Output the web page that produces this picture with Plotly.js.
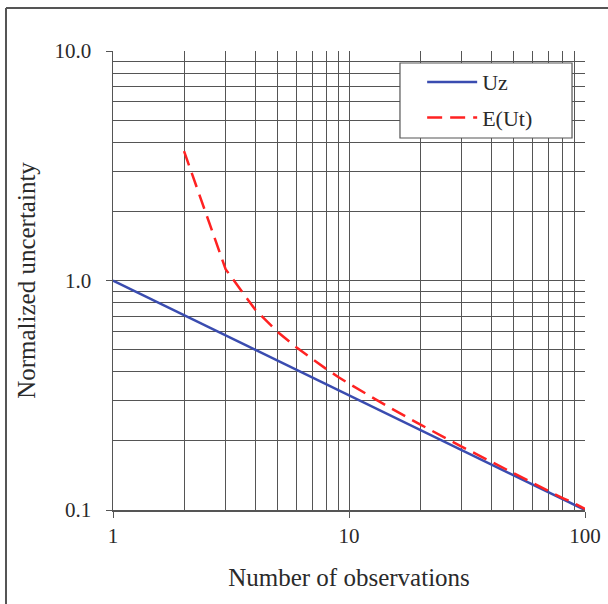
<!DOCTYPE html>
<html>
<head>
<meta charset="utf-8">
<script src="https://cdn.plot.ly/plotly-3.0.1.min.js"></script>
<style>
html,body{margin:0;padding:0;background:#fff;}
#chart{width:608px;height:604px;}
</style>
</head>
<body>
<div id="chart"></div>
<script>
// Data
const nUz = [1, 2, 5, 10, 20, 50, 100];
const uz = [1.0, 0.707, 0.447, 0.316, 0.224, 0.141, 0.1];

const nEUt = [2, 3, 4, 5, 6, 7, 8, 9, 10, 15, 20, 30, 40, 50, 60, 70, 80, 90, 100];
const eut = [3.66, 1.12, 0.748, 0.595, 0.51, 0.453, 0.412, 0.38, 0.355, 0.278, 0.236, 0.189, 0.162, 0.144, 0.131, 0.121, 0.113, 0.107, 0.101];

const xTickVals = [1, 10, 100];
const xTickText = ['1', '10', '100'];
const yTickVals = [0.1, 1, 10];
const yTickText = ['0.1', '1.0', '10.0'];
const xMinor = [2, 3, 4, 5, 6, 7, 8, 9, 20, 30, 40, 50, 60, 70, 80, 90];
const yMinor = [0.2, 0.3, 0.4, 0.5, 0.6, 0.7, 0.8, 0.9, 2, 3, 4, 5, 6, 7, 8, 9];

const gridCol = '#555555';
const font = 'Liberation Serif, Times New Roman, serif';
const txtCol = '#2a2a2a';

const traces = [
  {x: nUz, y: uz, name: 'Uz', mode: 'lines', type: 'scatter',
   line: {color: '#3a4cb0', width: 2.5}, legendgroup: 'a'},
  {x: nEUt, y: eut, name: 'E(Ut)', mode: 'lines', type: 'scatter',
   line: {color: '#ff2222', width: 2.5, dash: '15px,8px'}, legendgroup: 'b'}
];

const layout = {
  width: 608, height: 604,
  margin: {l: 113, r: 23, t: 51, b: 94},
  paper_bgcolor: '#fff', plot_bgcolor: '#fff',
  font: {family: font, color: txtCol, size: 21},
  showlegend: true,
  legend: {x: 0.655, y: 0.978, xanchor: 'left', yanchor: 'top',
    bgcolor: 'rgba(0,0,0,0)', borderwidth: 0, itemwidth: 50,
    font: {family: font, size: 22, color: txtCol},
    traceorder: 'grouped', tracegroupgap: 4},
  xaxis: {type: 'log', range: [0, 2], tickvals: xTickVals, ticktext: xTickText,
    ticks: 'outside', ticklen: 6, tickcolor: gridCol, tickwidth: 1,
    ticklabelstandoff: 0,
    showgrid: true, gridcolor: gridCol, gridwidth: 1,
    showline: true, linecolor: gridCol, linewidth: 1.5,
    zeroline: false, tickfont: {size: 21, family: font, color: txtCol},
    minor: {tickvals: xMinor, showgrid: true, gridcolor: gridCol, gridwidth: 1, ticks: ''},
    title: {text: 'Number of observations', standoff: 22, font: {size: 25, family: font, color: txtCol}}},
  yaxis: {type: 'log', range: [-1, 1], tickvals: yTickVals, ticktext: yTickText,
    ticks: 'outside', ticklen: 6, tickcolor: gridCol, tickwidth: 1,
    ticklabelstandoff: 10,
    showgrid: true, gridcolor: gridCol, gridwidth: 1,
    showline: true, linecolor: gridCol, linewidth: 1.5,
    zeroline: false, tickfont: {size: 21, family: font, color: txtCol},
    minor: {tickvals: yMinor, showgrid: true, gridcolor: gridCol, gridwidth: 1, ticks: ''},
    title: {text: 'Normalized uncertainty', standoff: 12, font: {size: 25, family: font, color: txtCol}}},
  shapes: [
    {type: 'rect', xref: 'paper', yref: 'paper', x0: 0.608, x1: 0.9725, y0: 0.8105, y1: 0.9739,
     fillcolor: '#ffffff', line: {color: '#555', width: 1.2}, layer: 'above'},
    {type: 'line', xref: 'paper', yref: 'paper', x0: -0.2267, x1: 1.06, y0: 1.0937, y1: 1.0937,
     line: {color: '#555', width: 2}},
    {type: 'line', xref: 'paper', yref: 'paper', x0: -0.2267, x1: -0.2267, y0: 1.0937, y1: -0.22,
     line: {color: '#555', width: 2}}
  ]
};

Plotly.newPlot('chart', traces, layout, {displayModeBar: false, staticPlot: true});
</script>
</body>
</html>
